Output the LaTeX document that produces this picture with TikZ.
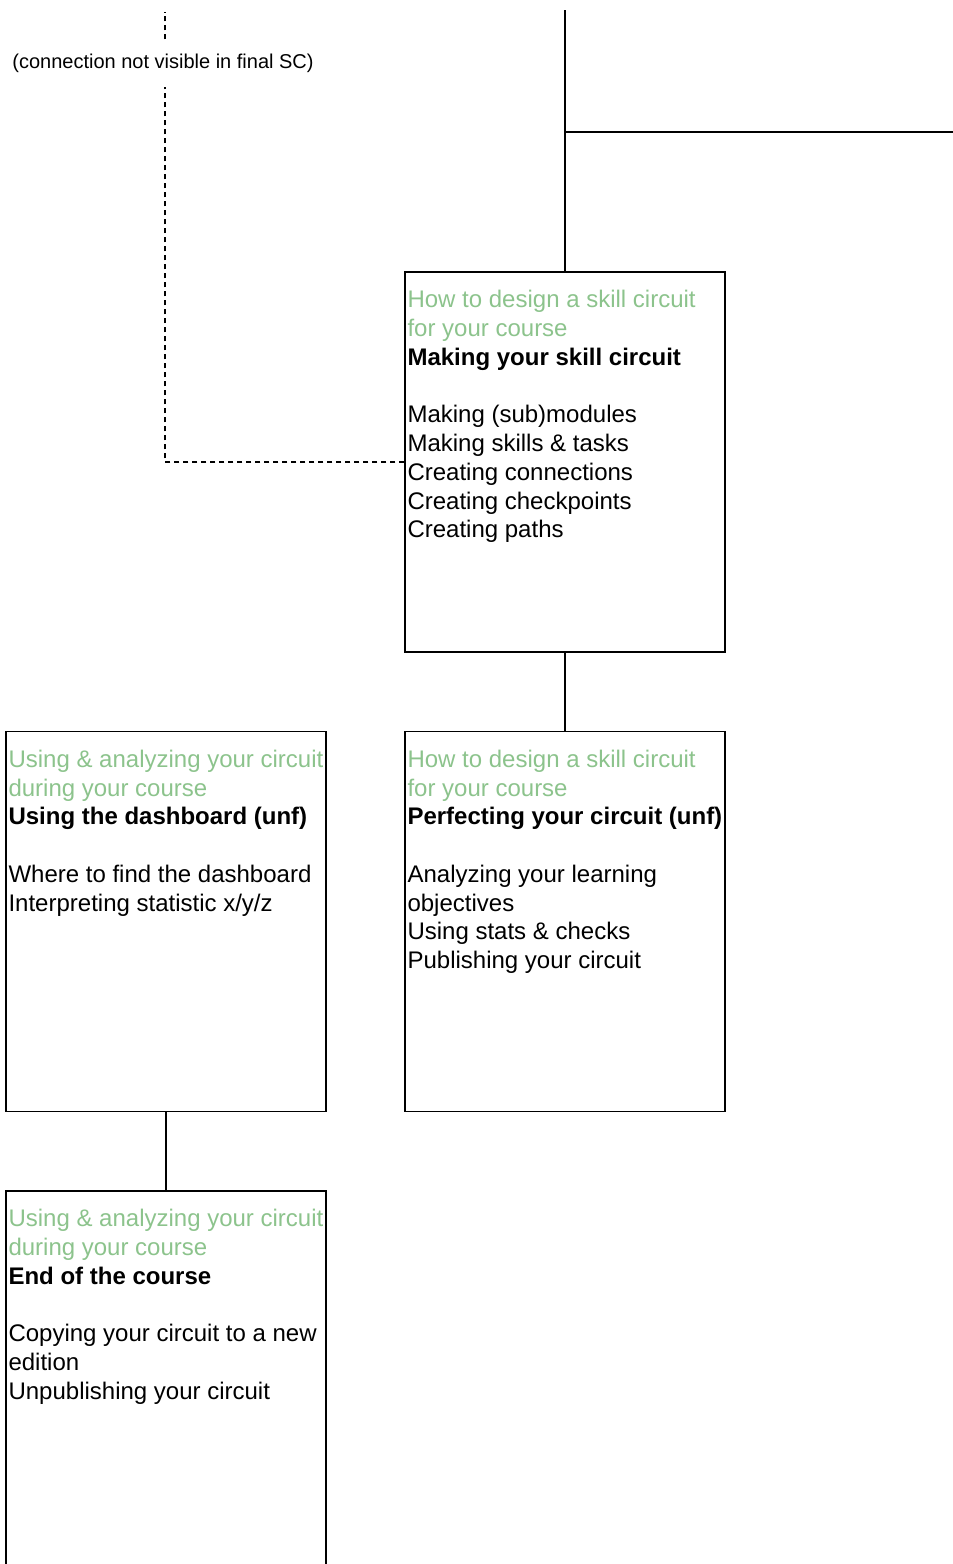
\documentclass[tikz,border=0pt]{standalone}
\usepackage{fontspec}
\setmainfont{Liberation Sans}
\definecolor{subgreen}{RGB}{140,195,140}
\tikzset{
  box/.style={draw, line width=1.3pt, rectangle, minimum width=320pt, minimum height=380pt, inner sep=0pt},
  boxtext/.style={anchor=north west, inner sep=0pt, align=left, font=\fontsize{24}{28.75}\selectfont},
  conn/.style={line width=1.3pt},
  dconn/.style={line width=1.3pt, dash pattern=on 5pt off 4pt},
  lbl/.style={inner sep=0pt, minimum height=47pt, font=\fontsize{20}{24}\selectfont}
}
\newcommand{\subt}[1]{\textcolor{subgreen}{#1}}
\begin{document}
\begin{tikzpicture}[x=1pt,y=-1pt]
\useasboundingbox (0,0) rectangle (953,1564);
\clip (0,0) rectangle (953,1564);
% boxes
\node[box] (b1) at (565,462) {};
\node[box] (b2) at (565,921.5) {};
\node[box] (b3) at (166,921.5) {};
\node[box] (b4) at (166,1381) {};
% texts
\node[boxtext] (t1) at ([xshift=3pt,yshift=-19pt]b1.north west) {\subt{How to design a skill circuit}\\\subt{for your course}\\\textbf{Making your skill circuit}\\[28.75pt]Making (sub)modules\\Making skills \& tasks\\Creating connections\\Creating checkpoints\\Creating paths};
\node[boxtext] (t2) at ([xshift=3pt,yshift=-19pt]b2.north west) {\subt{How to design a skill circuit}\\\subt{for your course}\\\textbf{Perfecting your circuit (unf)}\\[28.75pt]Analyzing your learning\\objectives\\Using stats \& checks\\Publishing your circuit};
\node[boxtext] (t3) at ([xshift=3pt,yshift=-19pt]b3.north west) {\subt{Using \& analyzing your circuit}\\\subt{during your course}\\\textbf{Using the dashboard (unf)}\\[28.75pt]Where to find the dashboard\\Interpreting statistic x/y/z};
\node[boxtext] (t4) at ([xshift=3pt,yshift=-19pt]b4.north west) {\subt{Using \& analyzing your circuit}\\\subt{during your course}\\\textbf{End of the course}\\[28.75pt]Copying your circuit to a new\\edition\\Unpublishing your circuit};
% connectors
\coordinate (ttop) at (565,10);
\coordinate (rend) at (960,132);
\draw[conn] (ttop) -- (b1.north);
\draw[conn] (b1.north |- rend) -- (rend);
\draw[conn] (b1.south) -- (b2.north);
\draw[conn] (b3.south) -- (b4.north);
% dashed connection
\node[lbl] (note) at (163,63) {(connection not visible in final SC)};
\coordinate (dtop) at (165,12);
\draw[dconn] (b1.west) -| (dtop |- note.south);
\draw[dconn] (note.north -| dtop) -- (dtop);
\end{tikzpicture}
\end{document}
